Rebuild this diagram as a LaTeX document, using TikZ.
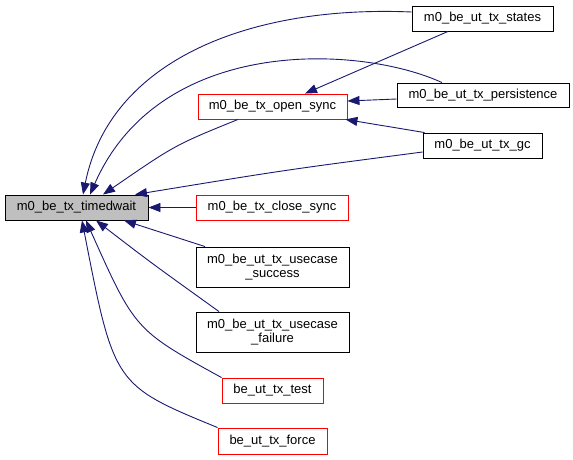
\documentclass[tikz,border=0pt]{standalone}
\usepackage{fontspec}
\setmainfont{Liberation Sans}
\usetikzlibrary{arrows.meta}
\definecolor{edgeblue}{HTML}{191970}
\definecolor{boxgray}{HTML}{BFBFBF}
\begin{document}
\begin{tikzpicture}[x=1pt,y=-1pt,
  box/.style={draw=black,line width=0.9pt,fill=white,inner sep=0pt,align=center,
    font=\fontsize{13}{14}\selectfont},
  redbox/.style={box,draw=red},
  edge/.style={draw=edgeblue,line width=0.9pt,-{Triangle[length=12pt,width=9pt]}}]
\useasboundingbox (0,0) rectangle (573,460);
% nodes
\node[box,fill=boxgray,minimum width=143pt,minimum height=25pt] (tw) at (76.5,207.5) {m0\_be\_tx\_timedwait};
\node[redbox,minimum width=149pt,minimum height=25pt] (open) at (272.5,106.5) {m0\_be\_tx\_open\_sync};
\node[redbox,minimum width=152pt,minimum height=25pt] (close) at (272,207.5) {m0\_be\_tx\_close\_sync};
\node[box,minimum width=153pt,minimum height=40pt] (succ) at (272.5,267) {m0\_be\_ut\_tx\_usecase\\\_success};
\node[box,minimum width=153pt,minimum height=40pt] (fail) at (272.5,332) {m0\_be\_ut\_tx\_usecase\\\_failure};
\node[redbox,minimum width=101pt,minimum height=25pt] (test) at (272.5,390.5) {be\_ut\_tx\_test};
\node[redbox,minimum width=109pt,minimum height=26pt] (force) at (272.5,441) {be\_ut\_tx\_force};
\node[box,minimum width=141pt,minimum height=25pt] (states) at (482.5,18.5) {m0\_be\_ut\_tx\_states};
\node[box,minimum width=172pt,minimum height=24pt] (pers) at (483,95) {m0\_be\_ut\_tx\_persistence};
\node[box,minimum width=119pt,minimum height=25pt] (gc) at (482.5,145.5) {m0\_be\_ut\_tx\_gc};
% edges to timedwait
\draw[edge] ([yshift=6.5pt]states.west) .. controls (250,5) and (110,60) .. ([xshift=6.5pt]tw.north);
\draw[edge] ([xshift=-41pt]pers.north) .. controls (360,45) and (160,35) .. ([xshift=13.5pt]tw.north);
\draw[edge] ([xshift=-34.5pt]open.south) .. controls (175,145) .. ([xshift=26.5pt]tw.north);
\draw[edge] ([yshift=-6.5pt]gc.west) .. controls (285,170) .. ([xshift=58.5pt]tw.north);
\draw[edge] (close.west) -- (tw.east);
\draw[edge] ([xshift=-67.5pt]succ.north) -- ([xshift=47.5pt]tw.south);
\draw[edge] ([xshift=-53.5pt]fail.north) .. controls (150,262) .. ([xshift=19.5pt]tw.south);
\draw[edge] (test.north west) .. controls (135,330) .. ([xshift=9.5pt]tw.south);
\draw[edge] (force.north west) .. controls (114,385) .. ([xshift=5.5pt]tw.south);
% edges to open_sync
\draw[edge] ([xshift=-34.5pt]states.south) -- ([xshift=32.5pt]open.north);
\draw[edge] ([yshift=-4pt]pers.west) -- ([yshift=5.5pt]open.east);
\draw[edge] ([xshift=2pt]gc.north west) -- ([xshift=-2pt]open.south east);
\end{tikzpicture}
\end{document}
